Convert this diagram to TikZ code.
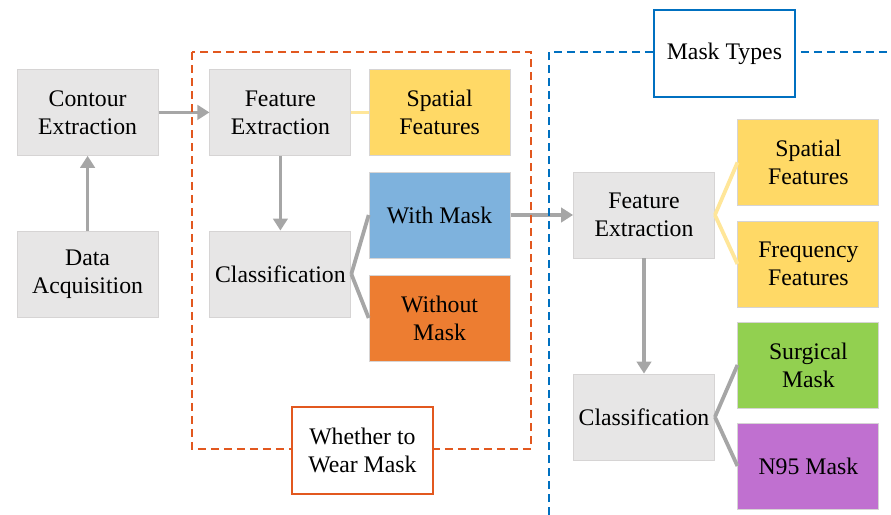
\documentclass[tikz,border=0pt]{standalone}
\usepackage{fontspec}
\setmainfont{Liberation Serif}
\usepackage{tikz}
\usetikzlibrary{arrows.meta, positioning}
\definecolor{BoxGray}{HTML}{E7E6E6}
\definecolor{BoxLine}{HTML}{D6D4D4}
\definecolor{LinkGray}{HTML}{A6A6A6}
\definecolor{Gold}{HTML}{FFD966}
\definecolor{SoftGold}{HTML}{FFE699}
\definecolor{SkyBlue}{HTML}{7EB2DD}
\definecolor{Orange}{HTML}{ED7D31}
\definecolor{Lime}{HTML}{92D050}
\definecolor{Orchid}{HTML}{C070D0}
\definecolor{FrameOrange}{HTML}{E2581F}
\definecolor{FrameBlue}{HTML}{0070C0}

\begin{document}
\begin{tikzpicture}[
  font=\fontsize{16.9}{19.9}\selectfont,
  box/.style={draw=BoxLine, line width=0.6pt, minimum width=3.525cm, minimum height=2.15cm, align=center, inner sep=0pt},
  arrow/.style={-{Triangle[length=0.3cm, width=0.36cm]}, line width=2.7pt, draw=LinkGray},
  link/.style={line width=2.7pt, draw=LinkGray},
  featlink/.style={line width=2.7pt, draw=SoftGold},
  frame/.style={line width=1.5pt, dash pattern=on 0.2cm off 0.125cm},
  tag/.style={draw, line width=1.3pt, fill=white, minimum width=3.525cm, minimum height=2.17cm, align=center, inner sep=0pt}
]
\useasboundingbox (0,0) rectangle (22.275,-12.875);

% pipeline on the left
\node[box, fill=BoxGray] (contour) at (2.19,-2.81) {Contour\\Extraction};
\node[box, fill=BoxGray] (data) at (2.19,-6.85) {Data\\Acquisition};

% whether to wear a mask
\node[box, fill=BoxGray] (feat1) at (7.01,-2.81) {Feature\\Extraction};
\node[box, fill=BoxGray] (cls1) at (7.01,-6.85) {Classification};
\node[box, fill=Gold] (spatial1) at (10.99,-2.81) {Spatial\\Features};
\node[box, fill=SkyBlue] (withmask) at (10.99,-5.375) {With Mask};
\node[box, fill=Orange] (nomask) at (10.99,-7.95) {Without\\Mask};

% mask types
\node[box, fill=BoxGray] (feat2) at (16.1,-5.375) {Feature\\Extraction};
\node[box, fill=BoxGray] (cls2) at (16.1,-10.425) {Classification};
\node[box, fill=Gold] (spatial2) at (20.21,-4.06) {Spatial\\Features};
\node[box, fill=Gold] (freq) at (20.21,-6.6) {Frequency\\Features};
\node[box, fill=Lime] (surgical) at (20.21,-9.125) {Surgical\\Mask};
\node[box, fill=Orchid] (n95) at (20.21,-11.65) {N95 Mask};

\draw[arrow] (data) -- (contour);
\draw[arrow] (contour) -- (feat1);
\draw[arrow] (feat1) -- (cls1);
\draw[featlink] (feat1) -- (spatial1);
\draw[link] (cls1.east) -- (withmask.west);
\draw[link] (cls1.east) -- (nomask.west);
\draw[arrow] (withmask) -- (feat2);
\draw[featlink] (feat2.east) -- (spatial2.west);
\draw[featlink] (feat2.east) -- (freq.west);
\draw[arrow] (feat2) -- (cls2);
\draw[link] (cls2.east) -- (surgical.west);
\draw[link] (cls2.east) -- (n95.west);

% dashed frames
\draw[frame, draw=FrameOrange] (4.8,-1.3) rectangle (13.275,-11.225);
\draw[frame, draw=FrameBlue] (13.725,-12.875) -- (13.725,-1.3) -- (22.275,-1.3);

\node[tag, draw=FrameOrange] (wear) at (9.06,-11.26) {Whether to\\Wear Mask};
\node[tag, draw=FrameBlue] (types) at (18.11,-1.34) {Mask Types};
\end{tikzpicture}
\end{document}
